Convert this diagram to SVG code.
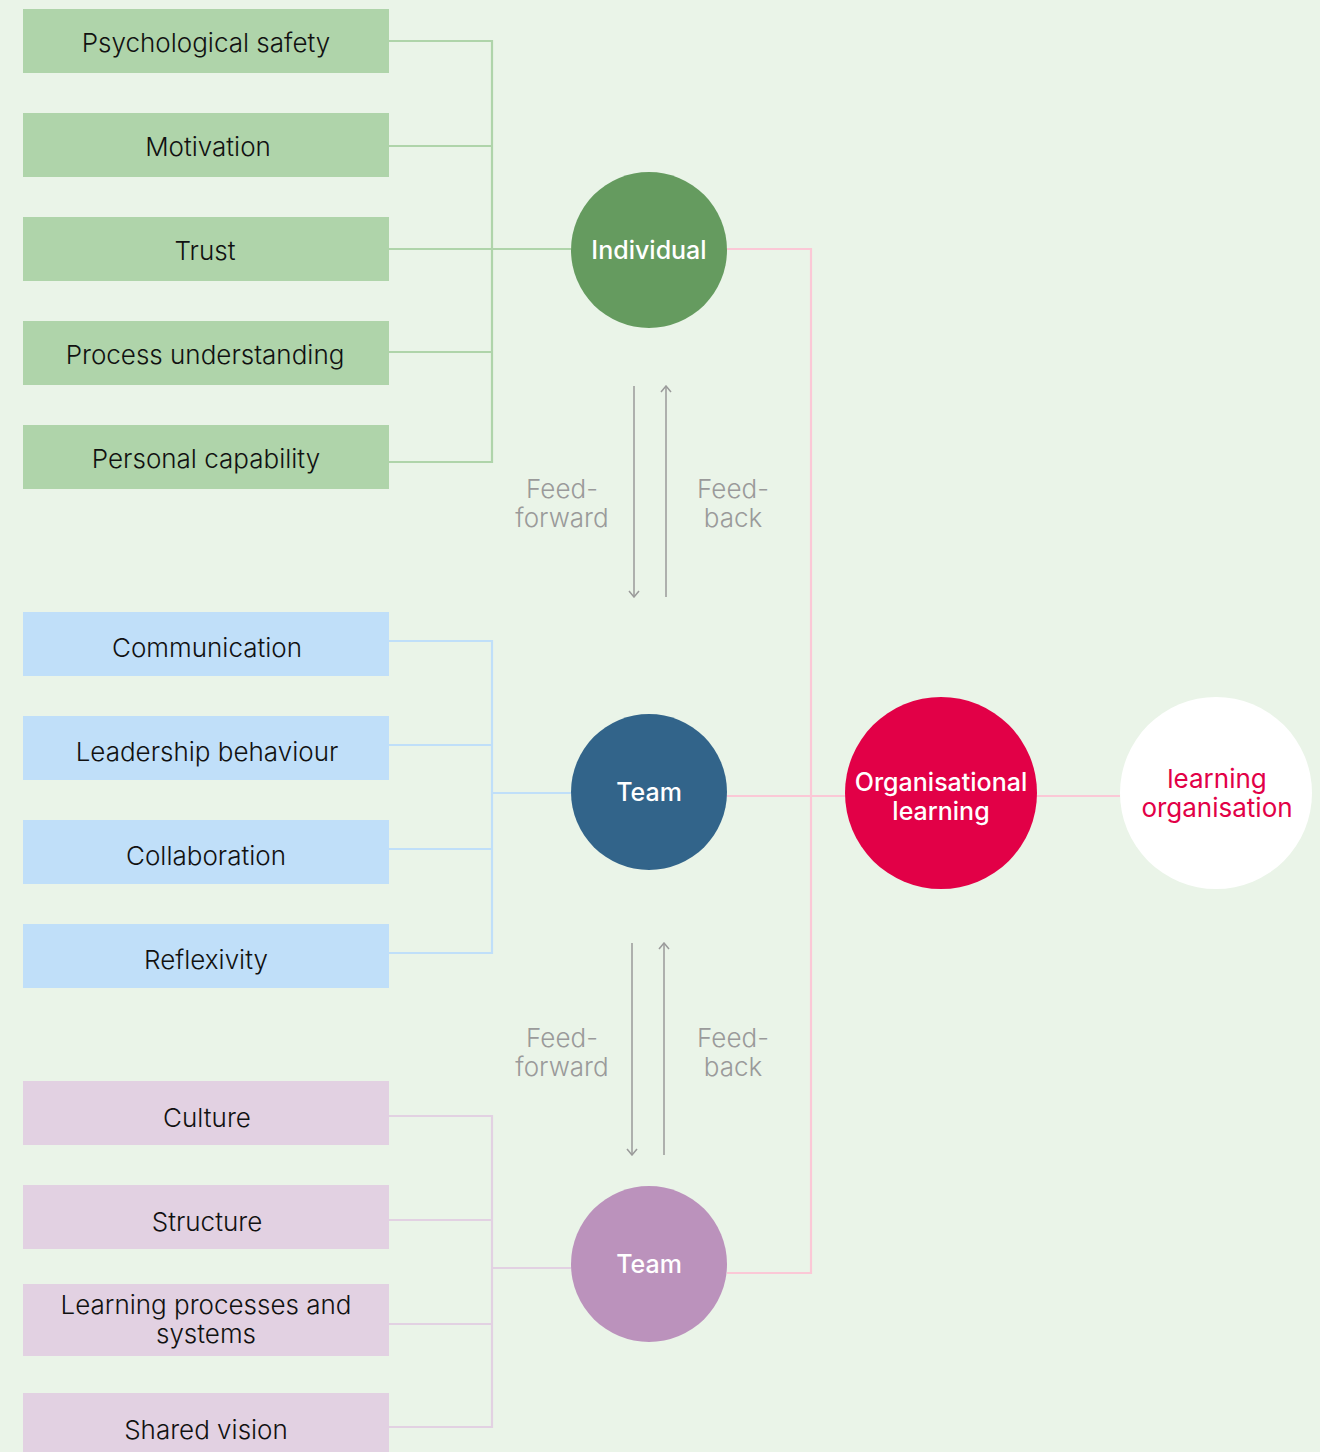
<svg xmlns="http://www.w3.org/2000/svg" width="1320" height="1452" viewBox="0 0 1320 1452">
  <defs>
    <style>
      .box-text { font-family: Inter, "Liberation Sans", sans-serif; font-size: 26px; font-weight: 300; fill: #111; text-anchor: middle; }
      .circle-text { font-family: Inter, "Liberation Sans", sans-serif; font-size: 25px; font-weight: 500; fill: #fff; text-anchor: middle; }
      .outcome-text { font-family: Inter, "Liberation Sans", sans-serif; font-size: 26px; font-weight: 400; fill: #e20047; text-anchor: middle; }
      .feed-text { font-family: Inter, "Liberation Sans", sans-serif; font-size: 26px; font-weight: 300; fill: #9a9a9a; text-anchor: middle; }
      .green { fill: #afd4aa; }
      .blue { fill: #c0dff9; }
      .purple { fill: #e2d1e2; }
      .line { fill: none; stroke-width: 2.2; }
      .arrow { fill: none; stroke: #9a9a9a; stroke-width: 1.5; }
    </style>
    <!-- small open chevron at the end of the feed arrows -->
    <marker id="chev" viewBox="0 0 8 12" refX="7" refY="6" markerWidth="8" markerHeight="12" markerUnits="userSpaceOnUse" orient="auto">
      <path d="M1,1 L7,6 L1,11" fill="none" stroke="#9a9a9a" stroke-width="1.5"/>
    </marker>
  </defs>

  <rect width="1320" height="1452" fill="#eaf4e8"/>

  <!-- connectors -->
  <g id="connectors">
    <!-- individual factors -->
    <path class="line" stroke="#afd4aa" d="M389,41 H492 V462 H389 M389,146 H492 M389,249 H571 M389,352 H492"/>
    <!-- team factors -->
    <path class="line" stroke="#c0dff9" d="M389,641 H492 V953 H389 M389,745 H492 M389,849 H492 M492,793 H571"/>
    <!-- organisation factors -->
    <path class="line" stroke="#e2d1e2" d="M389,1116 H492 V1427 H389 M389,1220 H492 M389,1324 H492 M492,1268 H571"/>
    <!-- levels to organisational learning -->
    <path class="line" stroke="#fbc8d6" d="M727,249 H811 V1273 H727 M727,796 H845 M1037,796 H1120"/>
    <!-- feed-forward / feed-back -->
    <line class="arrow" x1="634" y1="386" x2="634" y2="597" marker-end="url(#chev)"/>
    <line class="arrow" x1="666" y1="597" x2="666" y2="386" marker-end="url(#chev)"/>
    <line class="arrow" x1="632" y1="943" x2="632" y2="1155" marker-end="url(#chev)"/>
    <line class="arrow" x1="664" y1="1155" x2="664" y2="943" marker-end="url(#chev)"/>
  </g>

  <g id="feed-labels">
    <text class="feed-text" x="562" y="498">Feed-</text>
    <text class="feed-text" x="562" y="527">forward</text>
    <text class="feed-text" x="733" y="498">Feed-</text>
    <text class="feed-text" x="733" y="527">back</text>
    <text class="feed-text" x="562" y="1047">Feed-</text>
    <text class="feed-text" x="562" y="1076">forward</text>
    <text class="feed-text" x="733" y="1047">Feed-</text>
    <text class="feed-text" x="733" y="1076">back</text>
  </g>

  <!-- individual factors -->
  <g id="psychological-safety"><rect class="green" x="23" y="9" width="366" height="64"/><text class="box-text" x="206" y="52">Psychological safety</text></g>
  <g id="motivation"><rect class="green" x="23" y="113" width="366" height="64"/><text class="box-text" x="208" y="156">Motivation</text></g>
  <g id="trust"><rect class="green" x="23" y="217" width="366" height="64"/><text class="box-text" x="205" y="260">Trust</text></g>
  <g id="process-understanding"><rect class="green" x="23" y="321" width="366" height="64"/><text class="box-text" x="205" y="364">Process understanding</text></g>
  <g id="personal-capability"><rect class="green" x="23" y="425" width="366" height="64"/><text class="box-text" x="206" y="468">Personal capability</text></g>

  <!-- team factors -->
  <g id="communication"><rect class="blue" x="23" y="612" width="366" height="64"/><text class="box-text" x="207" y="657">Communication</text></g>
  <g id="leadership-behaviour"><rect class="blue" x="23" y="716" width="366" height="64"/><text class="box-text" x="207" y="761">Leadership behaviour</text></g>
  <g id="collaboration"><rect class="blue" x="23" y="820" width="366" height="64"/><text class="box-text" x="206" y="865">Collaboration</text></g>
  <g id="reflexivity"><rect class="blue" x="23" y="924" width="366" height="64"/><text class="box-text" x="206" y="969">Reflexivity</text></g>

  <!-- organisation factors -->
  <g id="culture"><rect class="purple" x="23" y="1081" width="366" height="64"/><text class="box-text" x="207" y="1127">Culture</text></g>
  <g id="structure"><rect class="purple" x="23" y="1185" width="366" height="64"/><text class="box-text" x="207" y="1231">Structure</text></g>
  <g id="learning-processes"><rect class="purple" x="23" y="1284" width="366" height="72"/><text class="box-text" x="206" y="1314">Learning processes and</text><text class="box-text" x="206" y="1343">systems</text></g>
  <g id="shared-vision"><rect class="purple" x="23" y="1393" width="366" height="70"/><text class="box-text" x="206" y="1439">Shared vision</text></g>

  <!-- levels -->
  <g id="individual"><circle cx="649" cy="250" r="78" fill="#659b5f"/><text class="circle-text" x="649" y="259">Individual</text></g>
  <g id="team"><circle cx="649" cy="792" r="78" fill="#32648a"/><text class="circle-text" x="649" y="801">Team</text></g>
  <g id="team-2"><circle cx="649" cy="1264" r="78" fill="#bb92bc"/><text class="circle-text" x="649" y="1273">Team</text></g>
  <g id="organisational-learning"><circle cx="941" cy="793" r="96" fill="#e20047"/><text class="circle-text" x="941" y="791">Organisational</text><text class="circle-text" x="941" y="820">learning</text></g>
  <g id="learning-organisation"><circle cx="1216" cy="793" r="96" fill="#ffffff"/><text class="outcome-text" x="1217" y="788">learning</text><text class="outcome-text" x="1217" y="817">organisation</text></g>
</svg>
